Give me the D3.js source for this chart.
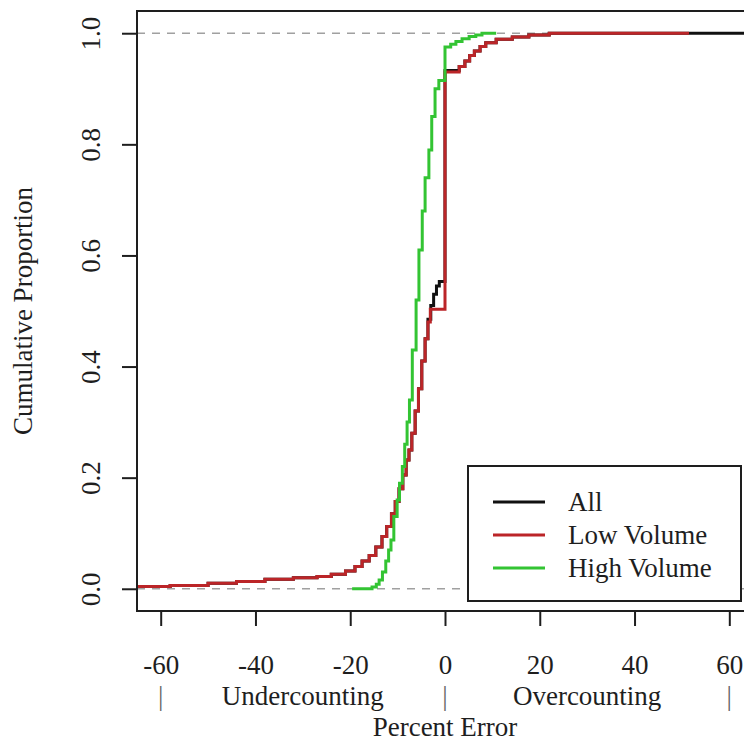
<!DOCTYPE html>
<html>
<head>
<meta charset="utf-8">
<script src="https://cdn.jsdelivr.net/npm/d3@7"></script>
<style>
  html, body { margin: 0; padding: 0; background: #fff; }
  svg { display: block; }
</style>
</head>
<body>
<div id="chart"></div>
<script>
// ECDF step points (percent error, cumulative proportion)
const allX  = [-65, -58, -50, -44, -38, -32, -27, -24, -21, -19, -17.5, -16, -14.6, -13.3, -12.3, -11.3, -10.5, -9.7, -8.9, -8.2, -7.6, -7.0, -6.3, -5.6, -4.9, -4.2, -3.6, -3.0, -2.4, -1.8, -1.2, 0, 3.0, 4.2, 5.2, 6.2, 7.4, 8.6, 10.8, 14.2, 17.7, 22, 65]
const allY  = [0.004, 0.006, 0.010, 0.013, 0.017, 0.020, 0.022, 0.026, 0.032, 0.040, 0.050, 0.060, 0.075, 0.094, 0.112, 0.135, 0.157, 0.180, 0.205, 0.232, 0.250, 0.280, 0.320, 0.360, 0.410, 0.450, 0.485, 0.510, 0.530, 0.545, 0.553, 0.933, 0.940, 0.950, 0.960, 0.968, 0.976, 0.983, 0.989, 0.993, 0.997, 1.0, 1.0]

const lowX  = [-65, -58, -50, -44, -38, -32, -27, -24, -21, -19, -17.5, -16, -14.6, -13.3, -12.3, -11.3, -10.5, -9.7, -8.9, -8.2, -7.6, -7.0, -6.3, -5.6, -4.9, -4.2, -3.6, -3.1, 0, 3.0, 4.2, 5.2, 6.2, 7.4, 8.6, 10.8, 14.2, 17.7, 22, 51.5]
const lowY  = [0.004, 0.006, 0.010, 0.013, 0.017, 0.020, 0.022, 0.026, 0.032, 0.040, 0.050, 0.060, 0.075, 0.094, 0.112, 0.135, 0.157, 0.180, 0.205, 0.232, 0.250, 0.280, 0.320, 0.360, 0.410, 0.450, 0.480, 0.503, 0.930, 0.940, 0.950, 0.960, 0.968, 0.976, 0.983, 0.989, 0.993, 0.997, 1.0, 1.0]

const highX = [-19.6, -15.4, -14.5, -13.9, -13.2, -12.5, -11.9, -11.4, -10.8, -10.1, -9.6, -9.0, -8.5, -8.0, -7.5, -6.9, -6.1, -5.5, -4.8, -4.2, -3.4, -2.8, -2.1, -1.3, 0, 1.2, 2.3, 3.6, 5.1, 6.5, 7.8, 10.8]
const highY = [0.0, 0.003, 0.008, 0.016, 0.030, 0.050, 0.070, 0.088, 0.130, 0.160, 0.190, 0.220, 0.260, 0.300, 0.340, 0.430, 0.520, 0.610, 0.680, 0.740, 0.790, 0.850, 0.900, 0.915, 0.975, 0.980, 0.985, 0.990, 0.994, 0.997, 1.0, 1.0]

const seriesNames  = ["All", "Low Volume", "High Volume"]
const seriesColors = ["#111111", "#bb2528", "#33c433"]

const xTicks = [-60, -40, -20, 0, 20, 40, 60]
const yTicks = [0, 0.2, 0.4, 0.6, 0.8, 1.0]
const refLines = [0, 1]
const sideMarks = [
  {x: -60, text: "|"}, {x: -30, text: "Undercounting"}, {x: 0, text: "|"},
  {x: 30, text: "Overcounting"}, {x: 60, text: "|"}
]

const width = 744, height = 744
const margin = {left: 137, top: 11}
const plotW = 616, plotH = 600
const font = "Liberation Serif, Times New Roman, serif"
const ink = "#1e1e1e"

const x = d3.scaleLinear().domain([-65, 65]).range([margin.left, margin.left + plotW])
const y = d3.scaleLinear().domain([-0.04, 1.04]).range([margin.top + plotH, margin.top])

const svg = d3.select("#chart").append("svg")
    .attr("width", width)
    .attr("height", height)
    .style("background", "#fff")

svg.append("clipPath").attr("id", "plotclip")
  .append("rect")
    .attr("x", margin.left).attr("y", margin.top)
    .attr("width", plotW).attr("height", plotH)

const plot = svg.append("g").attr("clip-path", "url(#plotclip)")

// dashed reference lines
plot.selectAll("line.ref")
  .data(refLines)
  .enter().append("line")
    .attr("class", "ref")
    .attr("x1", margin.left).attr("x2", margin.left + plotW)
    .attr("y1", d => y(d)).attr("y2", d => y(d))
    .attr("stroke", "#a0a0a0")
    .attr("stroke-width", 1.5)
    .attr("stroke-dasharray", "8,7")

const series = [
  {xs: allX, ys: allY},
  {xs: lowX, ys: lowY},
  {xs: highX, ys: highY}
]

const line = d3.line()
    .x(d => x(d[0]))
    .y(d => y(d[1]))
    .curve(d3.curveStepAfter)

plot.selectAll("path.ecdf")
  .data(series)
  .enter().append("path")
    .attr("class", "ecdf")
    .attr("d", d => line(d3.zip(d.xs, d.ys)))
    .attr("fill", "none")
    .attr("stroke", (d, i) => seriesColors[i])
    .attr("stroke-width", 3)

// box
svg.append("rect")
    .attr("x", margin.left).attr("y", margin.top)
    .attr("width", plotW).attr("height", plotH)
    .attr("fill", "none")
    .attr("stroke", ink)
    .attr("stroke-width", 2)

// x axis (plain hyphen for negatives, like the original)
const xAxis = svg.append("g")
    .attr("transform", "translate(0," + (margin.top + plotH) + ")")
    .call(d3.axisBottom(x).tickValues(xTicks).tickSize(15).tickFormat(d => String(d)))
xAxis.select(".domain").remove()
xAxis.selectAll("line").attr("stroke", ink).attr("stroke-width", 2)
xAxis.selectAll("text")
    .attr("y", 63).attr("dy", 0)
    .attr("font-family", font).attr("font-size", 27)
    .attr("fill", ink)

// y axis
const yAxis = svg.append("g")
    .attr("transform", "translate(" + margin.left + ",0)")
    .call(d3.axisLeft(y).tickValues(yTicks).tickSize(15).tickFormat(d => d.toFixed(1)))
yAxis.select(".domain").remove()
yAxis.selectAll("line").attr("stroke", ink).attr("stroke-width", 2)
yAxis.selectAll("text")
    .attr("x", 0).attr("y", 0).attr("dy", 0)
    .attr("transform", "translate(-37,0) rotate(-90)")
    .attr("text-anchor", "middle")
    .attr("font-family", font).attr("font-size", 27)
    .attr("fill", ink)

// second line under x axis
svg.append("g")
  .selectAll("text")
  .data(sideMarks)
  .enter().append("text")
    .attr("x", d => x(d.x))
    .attr("y", 705)
    .attr("text-anchor", "middle")
    .attr("font-family", font).attr("font-size", 27)
    .attr("fill", d => d.text === "|" ? "#666" : ink)
    .text(d => d.text)

svg.append("text")
    .attr("x", x(0))
    .attr("y", 736)
    .attr("text-anchor", "middle")
    .attr("font-family", font).attr("font-size", 27)
    .attr("fill", ink)
    .text("Percent Error")

svg.append("text")
    .attr("transform", "translate(32," + (margin.top + plotH / 2) + ") rotate(-90)")
    .attr("text-anchor", "middle")
    .attr("font-family", font).attr("font-size", 27)
    .attr("fill", ink)
    .text("Cumulative Proportion")

// legend
const legend = svg.append("g").attr("transform", "translate(468,466)")
legend.append("rect")
    .attr("width", 273).attr("height", 135)
    .attr("fill", "#fff")
    .attr("stroke", ink)
    .attr("stroke-width", 2)
const rows = legend.selectAll("g.row")
  .data(seriesNames)
  .enter().append("g")
    .attr("class", "row")
    .attr("transform", (d, i) => "translate(0," + (36 + i * 33) + ")")
rows.append("line")
    .attr("x1", 25).attr("x2", 77)
    .attr("stroke", (d, i) => seriesColors[i])
    .attr("stroke-width", 3)
rows.append("text")
    .attr("x", 100)
    .attr("dy", "0.35em")
    .attr("font-family", font).attr("font-size", 27)
    .attr("fill", ink)
    .text(d => d)
</script>
</body>
</html>
